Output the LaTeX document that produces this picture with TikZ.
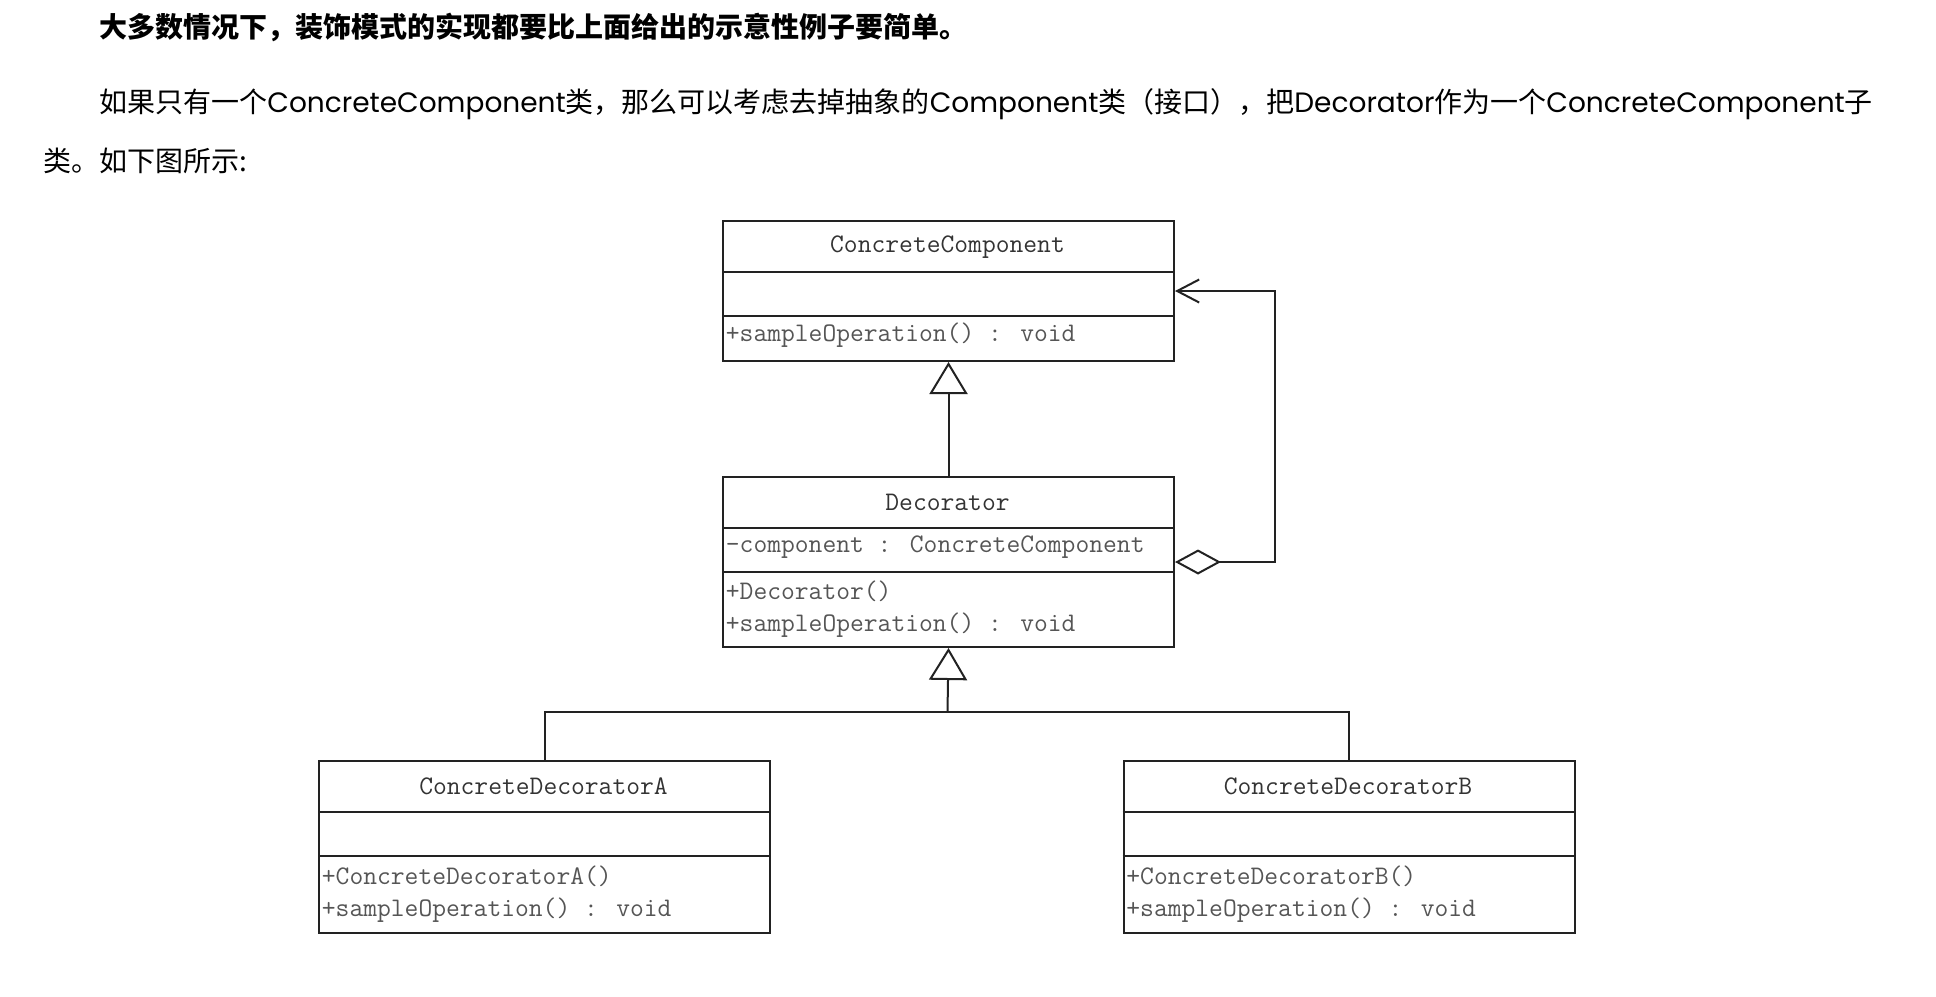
\documentclass[tikz,border=0pt]{standalone}
\usepackage{fontspec}
\newfontfamily\cjk{Noto Sans CJK SC}
\newfontfamily\lat{Poppins}
\usetikzlibrary{arrows.meta}
\definecolor{linec}{HTML}{222222}
\definecolor{titlec}{HTML}{333333}
\definecolor{memc}{HTML}{555555}
\begin{document}
\begin{tikzpicture}[x=0.5pt,y=-0.5pt,
  classbox/.style={draw=linec, line width=1pt, rectangle, inner sep=0pt, anchor=north west, minimum width=225.5pt},
  divider/.style={draw=linec, line width=1pt},
  ctitle/.style={font=\fontsize{13.4pt}{16pt}\selectfont\ttfamily, text=titlec, inner sep=0pt},
  cmember/.style={font=\fontsize{13.4pt}{16pt}\selectfont\ttfamily, text=memc, inner sep=0pt, anchor=west},
  conn/.style={draw=linec, line width=1pt},
  gen/.style={conn, -{Triangle[open, length=16pt, width=19pt, fill=white]}},
  agg/.style={conn, {Diamond[open, length=23pt, width=12.5pt, fill=white]}-{Straight Barb[length=11pt, width=11.5pt]}},
  para/.style={inner sep=0pt, anchor=west, text=black, font=\fontsize{14pt}{16pt}\selectfont\cjk}
]
\useasboundingbox[fill=white] (0,0) rectangle (1936,996);

% paragraph text
\node[para, font=\fontsize{14pt}{16pt}\selectfont\cjk\bfseries] (t1) at (99,27) {大多数情况下，装饰模式的实现都要比上面给出的示意性例子要简单。};
\node[para] (t2) at (99,104) {如果只有一个{\lat ConcreteComponent}类，那么可以考虑去掉抽象的{\lat Component}类（接口），把{\lat Decorator}作为一个{\lat ConcreteComponent}子};
\node[para] (t3) at (43,160.5) {类。如下图所示:};

% ConcreteComponent
\node[classbox, minimum height=70pt] (cc) at (722,220) {};
\draw[divider] (cc.west |- 0,271.7) -- (cc.east |- 0,271.7);
\draw[divider] (cc.west |- 0,316) -- (cc.east |- 0,316);
\node[ctitle] (cct) at (947.5,246.7) {ConcreteComponent};
\node[cmember] (ccm) at (725.5,335) {+sampleOperation() : void};

% Decorator
\node[classbox, minimum height=85pt] (dec) at (722,476) {};
\draw[divider] (dec.west |- 0,528) -- (dec.east |- 0,528);
\draw[divider] (dec.west |- 0,572) -- (dec.east |- 0,572);
\node[ctitle] (dect) at (947.5,502) {Decorator};
\node[cmember] (deca) at (725.5,547) {-component : ConcreteComponent};
\node[cmember] (decm1) at (725.5,591.7) {+Decorator()};
\node[cmember] (decm2) at (725.5,625) {+sampleOperation() : void};

% ConcreteDecoratorA
\node[classbox, minimum height=86pt] (A) at (318,760) {};
\draw[divider] (A.west |- 0,812) -- (A.east |- 0,812);
\draw[divider] (A.west |- 0,856) -- (A.east |- 0,856);
\node[ctitle] (At) at (543.5,786.7) {ConcreteDecoratorA};
\node[cmember] (Am1) at (321.5,876.7) {+ConcreteDecoratorA()};
\node[cmember] (Am2) at (321.5,910) {+sampleOperation() : void};

% ConcreteDecoratorB
\node[classbox, minimum height=86pt] (B) at (1122.5,760) {};
\draw[divider] (B.west |- 0,812) -- (B.east |- 0,812);
\draw[divider] (B.west |- 0,856) -- (B.east |- 0,856);
\node[ctitle] (Bt) at (1348,786.7) {ConcreteDecoratorB};
\node[cmember] (Bm1) at (1126,876.7) {+ConcreteDecoratorB()};
\node[cmember] (Bm2) at (1126,910) {+sampleOperation() : void};

% connectors
\draw[gen] (dec.north) -- (cc.south);
\coordinate (j) at (947.5,712);
\draw[conn] (A.north) |- (j);
\draw[conn] (B.north) |- (j);
\draw[gen] (j) -- (dec.south);
\draw[agg] (dec.east) -- ++(100,0) |- (cc.east);
\end{tikzpicture}
\end{document}
